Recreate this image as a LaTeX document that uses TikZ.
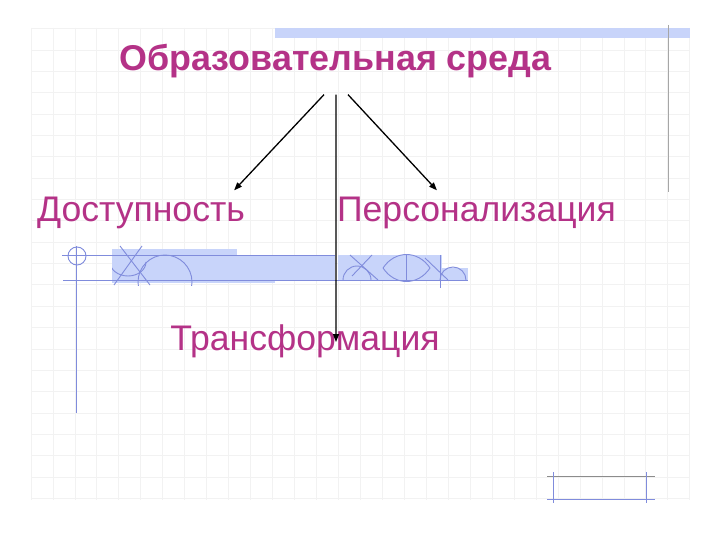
\documentclass[tikz,border=0pt]{standalone}
\usepackage{fontspec}
\setmainfont{Liberation Sans}
\usetikzlibrary{arrows.meta}
\definecolor{slidemag}{RGB}{180,50,135}
\definecolor{decofill}{RGB}{200,212,250}
\definecolor{decoblue}{RGB}{128,140,220}
\tikzset{
  gridline/.style={line width=0.8bp, black!5},
  decoline/.style={line width=0.9bp, decoblue},
  slidetext/.style={inner sep=0pt, anchor=base, text=slidemag, font=\fontsize{35.7}{36}\selectfont},
  arrow/.style={line width=1.3bp, -{Triangle[length=8bp,width=6bp]}}
}
\begin{document}
\begin{tikzpicture}[x=1bp, y=-1bp]
\useasboundingbox (0,0) rectangle (720,540);
\fill[white] (0,0) rectangle (720,540);

\foreach \i in {0,...,30}
\draw[gridline] ({31+21.96*\i}, 28) -- ({31+21.96*\i}, 500);
\foreach \j in {0,...,22}
\draw[gridline] (31, {28.65+21.35*\j}) -- (690, {28.65+21.35*\j});

\fill[decofill] (275, 28) rectangle (690, 38);
\draw[decoline, black!35] (668, 25) -- (668, 192);

\fill[decofill] (112, 249) rectangle (237, 283);
\fill[decofill] (237, 255) rectangle (335, 280);
\fill[decofill] (237, 280) rectangle (275, 283);
\fill[decofill] (338, 255) rectangle (442, 280);
\fill[decofill] (442, 268) rectangle (468, 280);
\draw[decoline] (62, 255) -- (335, 255);
\draw[decoline] (63, 280) -- (468, 280);
\draw[decoline] (76, 246) -- (76, 413);
\draw[decoline] (77, 256) circle (9);
\begin{scope}
\clip (112, 245) rectangle (200, 285);
\draw[decoline] (165, 282) circle (27);
\draw[decoline] (120, 246) -- (150, 285);
\draw[decoline] (142, 246) -- (114, 285);
\draw[decoline] (110, 262) arc (180:0:18 and 14);
\end{scope}
\draw[decoline] (343, 280) arc (180:360:14);
\draw[decoline] (350, 255) -- (378, 280);
\draw[decoline] (372, 255) -- (352, 276);
\draw[decoline] (383, 268) .. controls (395, 250) and (418, 250) .. (430, 268);
\draw[decoline] (383, 268) .. controls (395, 286) and (418, 286) .. (430, 268);
\draw[decoline] (406, 255) -- (406, 280);
\draw[decoline] (425, 258) -- (448, 280);
\draw[decoline] (440, 280) arc (180:360:13);
\draw[decoline] (440, 255) -- (440, 288);

\draw[decoline, black!45] (547, 476) -- (655, 476);
\draw[decoline] (547, 499) -- (655, 499);
\draw[decoline] (553, 472) -- (553, 503);
\draw[decoline] (646, 472) -- (646, 503);

\node[slidetext, font=\bfseries\fontsize{36}{36}\selectfont] (title) at (335.5, 71) {Образовательная среда};
\node[slidetext] (dost) at (141, 222) {Доступность};
\node[slidetext] (pers) at (476.5, 222) {Персонализация};
\node[slidetext] (trans) at (305, 350) {Трансформация};

\coordinate (fork) at ([yshift=-16bp]title.south);
\draw[arrow] ([xshift=-11.5bp]fork) -- ([xshift=-11bp, yshift=7bp]dost.north east);
\draw[arrow] ([xshift=12.5bp]fork) -- ([xshift=100bp, yshift=7bp]pers.north west);
\draw[arrow] ([xshift=0.5bp]fork) -- ([xshift=31bp, yshift=-18bp]trans.north);

\end{tikzpicture}
\end{document}
